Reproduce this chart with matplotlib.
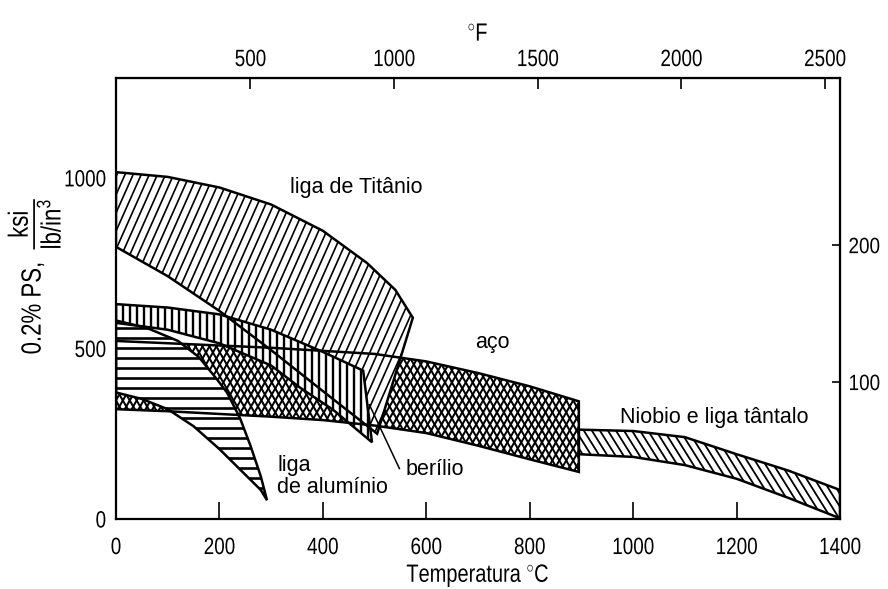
import numpy as np
import matplotlib
matplotlib.use("Agg")
import matplotlib.pyplot as plt
from matplotlib.patches import Polygon
from matplotlib.collections import LineCollection
from matplotlib.patheffects import AbstractPathEffect
from matplotlib.transforms import Affine2D

plt.rcParams['font.family'] = ['Liberation Sans', 'DejaVu Sans']
plt.rcParams['mathtext.fontset'] = 'custom'
plt.rcParams['mathtext.rm'] = 'Liberation Sans'
plt.rcParams['mathtext.it'] = 'Liberation Sans'

# ---- data: specific 0.2% proof stress (ksi / (lb/in^3)) vs temperature (deg C)
ti_t_hi = [0, 100, 200, 300, 400, 485, 540, 574]
ti_hi   = [1017, 1003, 972, 922, 845, 751, 672, 590]
ti_t_lo = [0, 100, 200, 300, 400, 505]
ti_lo   = [798, 712, 610, 495, 375, 250]

be_t_hi = [0, 100, 200, 300, 400, 478]
be_hi   = [630, 620, 600, 555, 490, 435]
be_t_lo = [0, 100, 200, 300, 356, 420, 495]
be_lo   = [575, 555, 515, 450, 385, 320, 225]

st_t  = [0, 150, 300, 400, 500, 600, 700, 800, 895]
st_hi = [522, 512, 502, 493, 484, 462, 428, 389, 345]
st_t_lo = [0, 100, 200, 300, 400, 500, 600, 700, 800, 895]
st_lo = [322, 316, 308, 300, 290, 274, 252, 215, 175, 138]

al_t_hi = [0, 60, 120, 160, 195, 215, 240, 260, 280, 292]
al_hi   = [582, 560, 522, 475, 410, 370, 295, 215, 125, 55]
al_t_lo = [0, 50, 100, 150, 200, 250, 280, 292]
al_lo   = [371, 352, 322, 272, 205, 130, 85, 55]

nb_t  = [895, 1000, 1100, 1200, 1300, 1400]
nb_hi = [262, 258, 240, 190, 142, 85]
nb_lo = [190, 182, 158, 118, 62, 2]

x_ticks = [0, 200, 400, 600, 800, 1000, 1200, 1400]
y_ticks = [0, 500, 1000]
f_ticks = [500, 1000, 1500, 2000, 2500]
r_ticks = [100, 200]
MPA_PER_KSI_DENS = 0.2491   # (ksi/(lb/in^3)) -> (MPa/(Mg/m^3))


class Condensed(AbstractPathEffect):
    """Draw text narrower along its reading direction."""

    def __init__(self, factor=0.8, anchor='center', vertical=False):
        super().__init__()
        self.factor = factor
        self.anchor = anchor
        self.vertical = vertical

    def draw_path(self, renderer, gc, tpath, affine, rgbFace=None):
        ext = tpath.get_extents(affine)
        if self.vertical:
            lo, hi = ext.y0, ext.y1
        else:
            lo, hi = ext.x0, ext.x1
        ref = {'left': lo, 'right': hi}.get(self.anchor, (lo + hi) / 2)
        if self.vertical:
            squeeze = Affine2D().translate(0, -ref).scale(1, self.factor).translate(0, ref)
        else:
            squeeze = Affine2D().translate(-ref, 0).scale(self.factor, 1).translate(ref, 0)
        renderer.draw_path(gc, tpath, affine + squeeze, rgbFace)


NARROW = 0.8

W, H = 888, 589
fig = plt.figure(figsize=(W / 100, H / 100), dpi=100)
ax = fig.add_axes([116 / W, 1 - 519 / H, (840 - 116) / W, (519 - 78) / H])
ax.set_xlim(0, 1400)
ax.set_ylim(0, 1293)

for s in ax.spines.values():
    s.set_linewidth(1.6)
    s.set_zorder(20)

ax.set_xticks(x_ticks)
ax.set_xticks([400], minor=True)
ax.set_yticks(y_ticks)
ax.tick_params(axis='x', which='major', direction='in', length=12, width=1.2,
               labelsize=17, pad=13)
ax.tick_params(axis='x', which='minor', direction='in', length=5, width=1.2)
ax.tick_params(axis='y', direction='in', length=5, width=1.2, labelsize=17, pad=7)
xl = ax.set_xlabel('Temperatura $^{\\circ}$C', fontsize=18, labelpad=2)
xl.set_path_effects([Condensed(NARROW)])
for t in ax.get_xticklabels():
    t.set_path_effects([Condensed(NARROW)])
for t in ax.get_yticklabels():
    t.set_path_effects([Condensed(NARROW, 'right')])


def band_polygon(t_hi, v_hi, t_lo, v_lo):
    upper = np.column_stack([t_hi, v_hi])
    lower = np.column_stack([t_lo, v_lo])[::-1]
    return np.vstack([upper, lower])


def hatched(poly, angles, spacing, lw, z):
    patch = Polygon(poly, closed=True, facecolor='white', edgecolor='none', zorder=z)
    ax.add_patch(patch)
    pix = ax.transData.transform(poly)
    lo, hi = pix.min(0), pix.max(0)
    c = (lo + hi) / 2
    R = np.hypot(*(hi - lo)) / 2 + spacing
    inv = ax.transData.inverted()
    segs = []
    for ang in angles:
        th = np.deg2rad(ang)
        d = np.array([np.cos(th), np.sin(th)])
        n = np.array([-np.sin(th), np.cos(th)])
        for o in np.arange(-R, R + spacing, spacing):
            p0 = c + n * o - d * R
            p1 = c + n * o + d * R
            segs.append(inv.transform(np.array([p0, p1])))
    lc = LineCollection(segs, colors='black', linewidths=lw, zorder=z)
    lc.set_clip_path(patch)
    ax.add_collection(lc, autolim=False)
    ax.add_patch(Polygon(poly, closed=True, fill=False, edgecolor='black',
                         linewidth=1.8, zorder=10))


steel = band_polygon(st_t, st_hi, st_t_lo, st_lo)
hatched(steel, [60, 120], 6.0, 1.45, 2)

niob = band_polygon(nb_t, nb_hi, nb_t, nb_lo)
hatched(niob, [-58], 6.8, 1.3, 2)

titan = band_polygon(ti_t_hi, ti_hi, ti_t_lo, ti_lo)
hatched(titan, [66], 7.4, 1.2, 3)

beryl = band_polygon(be_t_hi, be_hi, be_t_lo, be_lo)
hatched(beryl, [90], 7.0, 1.7, 4)

alum = band_polygon(al_t_hi, al_hi, al_t_lo, al_lo)
hatched(alum, [0], 10.0, 1.9, 5)

# pointer line to the beryllium label
ax.plot([490, 548], [335, 148], color='black', lw=1.1, zorder=11)

lab = dict(fontsize=15.5, zorder=12)
ax.text(464, 971, 'liga de Titânio', ha='center', va='center', **lab)
ax.text(727, 518, 'aço', ha='center', va='center', **lab)
ax.text(1157, 298, 'Niobio e liga tântalo', ha='center', va='center', **lab)
ax.text(312, 125, 'liga\nde alumínio', ha='left', va='center', linespacing=1.05, **lab)
ax.text(559, 146, 'berílio', ha='left', va='center', **lab)

# Fahrenheit scale on top
top = ax.secondary_xaxis('top', functions=(lambda c: c * 9 / 5 + 32,
                                           lambda f: (f - 32) * 5 / 9))
top.set_xticks(f_ticks)
top.tick_params(direction='in', length=8, width=1.2, labelsize=17, pad=5)
tl = top.set_xlabel('$^{\\circ}$F', fontsize=18, labelpad=6)
tl.set_path_effects([Condensed(NARROW)])
for t in top.get_xticklabels():
    t.set_path_effects([Condensed(NARROW)])

# specific strength in SI units on the right
right = ax.secondary_yaxis('right', functions=(lambda v: v * MPA_PER_KSI_DENS,
                                               lambda v: v / MPA_PER_KSI_DENS))
right.set_yticks(r_ticks)
right.tick_params(direction='in', length=6, width=1.2, labelsize=16, pad=6)
for t in right.get_yticklabels():
    t.set_path_effects([Condensed(0.85, 'left')])

yl = fig.text(34 / W, 1 - 276 / H,
              '0.2% PS,  $\\dfrac{\\mathrm{ksi}}{\\mathrm{lb/in^3}}$',
              rotation=90, ha='center', va='center', fontsize=20)
yl.set_path_effects([Condensed(NARROW, vertical=True)])

fig.savefig('out.png', dpi=100)
